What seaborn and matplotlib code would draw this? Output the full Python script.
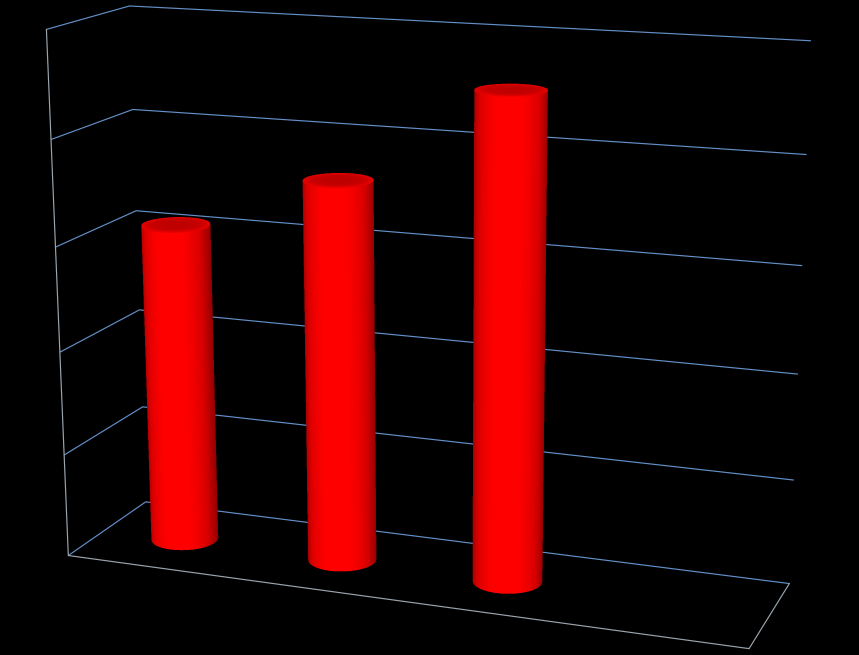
import numpy as np
import seaborn as sns
import matplotlib
matplotlib.use('Agg')
import matplotlib.pyplot as plt

# =============================================================================
# data (axis has 5 equal steps, 4 category slots, last empty)
categories=['A','B','C']
values=[31,36.4,45.6]
slots=4
yticks=[0,10,20,30,40,50]

# camera fitted to the corners of the box
elev,azim,roll=14.8819,-69.593,0.1155
focal=0.5025
box=(1,0.2478,0.7624)
zoom=1.0017
offset=(-0.0462,-0.1787)
W,H,S=859,655,900
ss=3 # drawn larger, then averaged down so the facets do not show

radius=0.194 # in slot units
slot_mid=0.507
depth=0.495
grid_c='#6390c8'
edge_c='#9aa5ae'

sns.set_theme(style='dark',rc={'figure.facecolor':'black','axes.facecolor':'black'})
ramp=sns.blend_palette(['#960000','#d80000','#ff0000'],n_colors=64,as_cmap=True)
cap_ramp=sns.blend_palette(['#be0000','#c80000','#f00000'],n_colors=32,as_cmap=True)

fig=plt.figure(figsize=(W/100,H/100),dpi=100*ss)
ax=fig.add_axes([offset[0],offset[1],S/W,S/H],projection='3d')
ax.set_xlim(0,slots)
ax.set_ylim(0,1)
ax.set_zlim(yticks[0],yticks[-1])
ax.set_proj_type('persp',focal_length=focal)
ax.view_init(elev,azim,roll)
ax.set_box_aspect(box,zoom=zoom)
ax.set_axis_off()
ax.computed_zorder=False

# == walls == #
for t in yticks:
    ax.plot([0,slots],[1,1],[t,t],color=grid_c,lw=0.85,zorder=1)
    ax.plot([0,0],[0,1],[t,t],color=grid_c,lw=0.85,zorder=1)
ax.plot([0,0],[0,0],[yticks[0],yticks[-1]],color=edge_c,lw=0.85,zorder=1)
ax.plot([0,slots],[0,0],[0,0],color=edge_c,lw=0.85,zorder=1)
ax.plot([slots,slots],[0,1],[0,0],color=edge_c,lw=0.85,zorder=1)

# == cylinders == #
y_scale=1/box[1]*(box[0]/slots) # keeps the section round in the box
a=np.radians(azim)
theta=np.linspace(a-np.radians(105),a+np.radians(105),121) # side turned to the viewer only
full=np.linspace(0,2*np.pi,121)
rr=np.linspace(0,1,13)
tt,rg=np.meshgrid(full,rr)
for i,(cat,val) in enumerate(zip(categories,values)):
    cx=i+slot_mid
    xs=cx+radius*np.cos(theta)
    ys=depth+radius*y_scale*np.sin(theta)
    X=np.array([xs,xs])
    Y=np.array([ys,ys])
    Z=np.array([np.zeros_like(xs),np.full_like(xs,val)])
    # brightness from the side's angle to a light a bit left of the viewer
    mid=(theta[:-1]+theta[1:])/2
    shade=np.clip(np.cos(mid-(a-np.radians(6)))/0.95,0,1)**1.5
    fc=ramp(shade)[None,:,:]
    ax.plot_surface(X,Y,Z,facecolors=fc,shade=False,rstride=1,cstride=1,linewidth=0.2,antialiased=False,zorder=2)
    # top cap
    cap_c=cap_ramp(rg[:-1,:-1]**2)
    ax.plot_surface(cx+radius*rg*np.cos(tt),depth+radius*y_scale*rg*np.sin(tt),np.full_like(rg,val),
                    facecolors=cap_c,shade=False,rstride=1,cstride=1,linewidth=0.2,antialiased=False,zorder=3)

fig.canvas.draw()
rgb=np.asarray(fig.canvas.buffer_rgba())[:,:,:3]/255
rgb=rgb[:H*ss,:W*ss].reshape(H,ss,W,ss,3).mean(axis=(1,3))
plt.imsave('out.png',rgb)
